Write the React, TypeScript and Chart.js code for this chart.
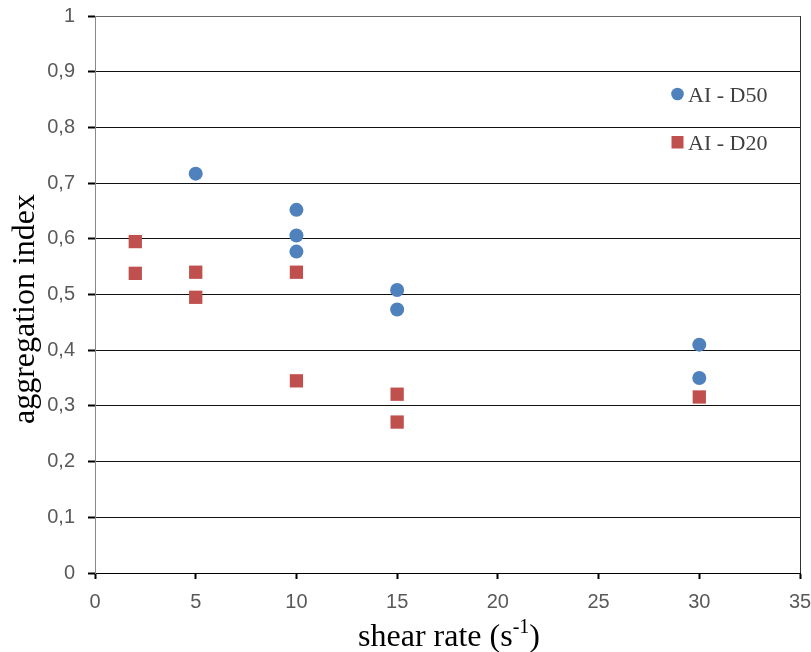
import React, { useEffect, useRef } from "react";
import { Chart, registerables } from "chart.js";

Chart.register(...registerables);

const d50X = [5, 10, 10, 10, 15, 15, 30, 30];
const d50Y = [0.717, 0.652, 0.606, 0.577, 0.508, 0.473, 0.41, 0.35];
const d20X = [2, 2, 5, 5, 10, 10, 15, 15, 30];
const d20Y = [0.595, 0.538, 0.54, 0.495, 0.54, 0.345, 0.321, 0.271, 0.316];
const seriesNames = ["AI - D50", "AI - D20"];
const xTitle = "shear rate (s";
const xTitleSup = "-1";
const yTitle = "aggregation index";

const BLUE = "#4F81BD";
const RED = "#C0504D";

function fmt(v: number): string {
  if (Math.abs(v - Math.round(v)) < 1e-9) return String(Math.round(v));
  return v.toFixed(1).replace(".", ",");
}

const overlay = {
  id: "overlay",
  afterDraw(chart: any) {
    const ctx = chart.ctx;
    const a = chart.chartArea;
    ctx.save();
    // right border
    ctx.strokeStyle = "#333";
    ctx.lineWidth = 1;
    ctx.beginPath();
    ctx.moveTo(Math.round(a.right) + 0.5, a.top);
    ctx.lineTo(Math.round(a.right) + 0.5, a.bottom);
    ctx.stroke();

    // legend
    ctx.font = "22px 'Liberation Serif', serif";
    ctx.textBaseline = "alphabetic";
    ctx.textAlign = "left";
    ctx.fillStyle = BLUE;
    ctx.beginPath();
    ctx.arc(677.5, 94, 6.3, 0, Math.PI * 2);
    ctx.fill();
    ctx.fillStyle = "#404040";
    ctx.fillText(seriesNames[0], 688, 102);
    ctx.fillStyle = RED;
    ctx.fillRect(671.5, 136, 12, 12.5);
    ctx.fillStyle = "#404040";
    ctx.fillText(seriesNames[1], 688, 150);

    // x title with superscript
    ctx.fillStyle = "#000";
    ctx.font = "32px 'Liberation Serif', serif";
    const w1 = ctx.measureText(xTitle).width;
    ctx.font = "20px 'Liberation Serif', serif";
    const w2 = ctx.measureText(xTitleSup).width;
    ctx.font = "32px 'Liberation Serif', serif";
    const w3 = ctx.measureText(")").width;
    const total = w1 + w2 + w3;
    let x = 449 - total / 2;
    const base = 646;
    ctx.fillText(xTitle, x, base);
    x += w1;
    ctx.font = "20px 'Liberation Serif', serif";
    ctx.fillText(xTitleSup, x, base - 13);
    x += w2;
    ctx.font = "32px 'Liberation Serif', serif";
    ctx.fillText(")", x, base);

    // y title
    ctx.translate(34, 309);
    ctx.rotate(-Math.PI / 2);
    ctx.textAlign = "center";
    ctx.fillText(yTitle, 0, 0);
    ctx.restore();
  },
};

export default function App() {
  const ref = useRef<HTMLCanvasElement | null>(null);
  useEffect(() => {
    document.body.style.margin = "0";
    const c = ref.current;
    if (!c) return;
    const tickFont = { family: "'Liberation Sans', Arial, sans-serif", size: 20 };
    const chart = new Chart(c, {
      type: "scatter",
      data: {
        datasets: [
          {
            label: seriesNames[0],
            data: d50X.map((x, i) => ({ x, y: d50Y[i] })),
            backgroundColor: BLUE,
            borderColor: BLUE,
            borderWidth: 0,
            pointStyle: "circle",
            pointRadius: 7,
            pointHoverRadius: 7,
          },
          {
            label: seriesNames[1],
            data: d20X.map((x, i) => ({ x, y: d20Y[i] })),
            backgroundColor: RED,
            borderColor: RED,
            borderWidth: 0,
            pointStyle: "rect",
            pointRadius: 9.4,
            pointHoverRadius: 9.4,
          },
        ],
      },
      options: {
        animation: false,
        responsive: false,
        devicePixelRatio: 1,
        layout: { padding: { top: 16, right: 11, left: 0, bottom: 0 } },
        plugins: {
          legend: { display: false },
          tooltip: { enabled: false },
        },
        scales: {
          x: {
            type: "linear",
            min: 0,
            max: 35,
            afterFit: (s: any) => {
              s.height = 79;
              s.paddingLeft = 0;
              s.paddingRight = 0;
            },
            ticks: {
              stepSize: 5,
              color: "#595959",
              font: tickFont,
              padding: 11,
              maxRotation: 0,
              callback: (v: any) => fmt(Number(v)),
            },
            grid: {
              drawOnChartArea: false,
              drawTicks: true,
              tickLength: 6,
              tickWidth: 2,
              tickColor: "#000",
            },
            border: { color: "#000", width: 1 },
            title: { display: false },
          },
          y: {
            type: "linear",
            min: 0,
            max: 1,
            afterFit: (s: any) => {
              s.width = 95;
              s.paddingTop = 0;
              s.paddingBottom = 0;
            },
            ticks: {
              stepSize: 0.1,
              color: "#595959",
              font: tickFont,
              padding: 13,
              callback: (v: any) => fmt(Number(v)),
            },
            grid: {
              color: (ctx: any) => (ctx.tick && ctx.tick.value === 1 ? "#666" : "#111"),
              lineWidth: 1,
              drawTicks: true,
              tickLength: 7,
              tickWidth: 2,
              tickColor: "#000",
            },
            border: { color: "#888", width: 1 },
            title: { display: false },
          },
        },
      },
      plugins: [overlay],
    } as any);
    return () => chart.destroy();
  }, []);
  return (
    <div style={{ width: 811, height: 652 }}>
      <canvas ref={ref} width={811} height={652} style={{ display: "block" }} />
    </div>
  );
}
